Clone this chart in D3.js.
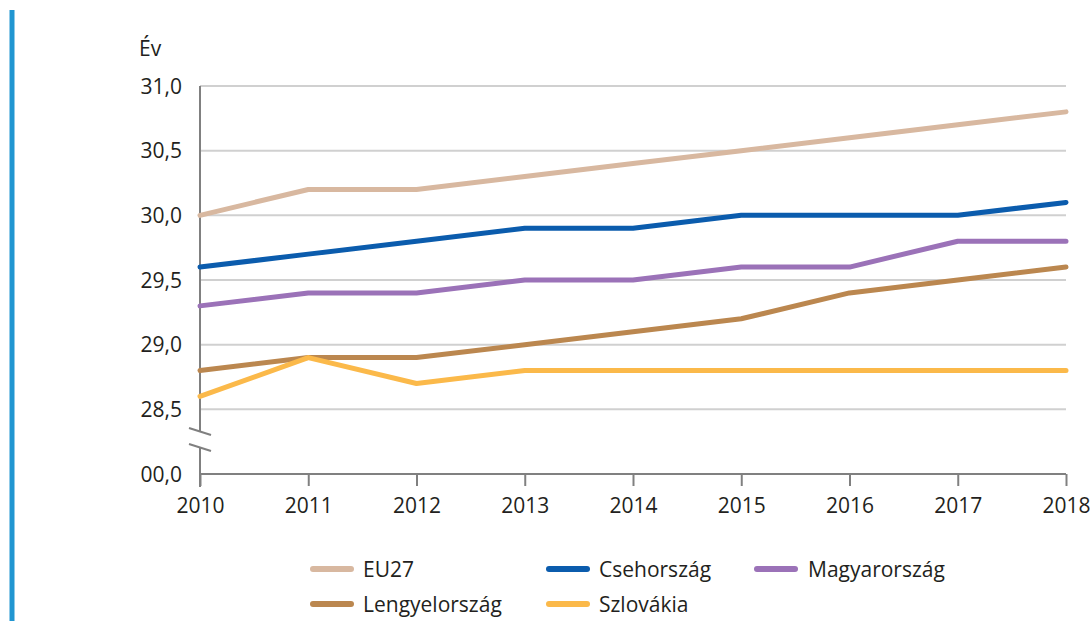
<!DOCTYPE html>
<html>
<head>
<meta charset="utf-8">
<script src="https://cdn.jsdelivr.net/npm/d3@7"></script>
<style>
  html, body { margin: 0; padding: 0; background: #fff; }
  svg { display: block; }
  text { font-family: "Open Sans", sans-serif; fill: #231f20; }
</style>
</head>
<body>
<svg id="chart" width="1090" height="621"></svg>
<script>
const years = [2010, 2011, 2012, 2013, 2014, 2015, 2016, 2017, 2018];
const eu27 = [30.0, 30.2, 30.2, 30.3, 30.4, 30.5, 30.6, 30.7, 30.8];
const csehorszag = [29.6, 29.7, 29.8, 29.9, 29.9, 30.0, 30.0, 30.0, 30.1];
const magyarorszag = [29.3, 29.4, 29.4, 29.5, 29.5, 29.6, 29.6, 29.8, 29.8];
const lengyelorszag = [28.8, 28.9, 28.9, 29.0, 29.1, 29.2, 29.4, 29.5, 29.6];
const szlovakia = [28.6, 28.9, 28.7, 28.8, 28.8, 28.8, 28.8, 28.8, 28.8];
const seriesNames = ["EU27", "Csehország", "Magyarország", "Lengyelország", "Szlovákia"];
const seriesColors = ["#d8b8a0", "#0b5cad", "#9b72b8", "#bb874f", "#fbb94a"];
const yTickValues = [28.0, 28.5, 29.0, 29.5, 30.0, 30.5, 31.0];
const yTickLabels = ["00,0", "28,5", "29,0", "29,5", "30,0", "30,5", "31,0"];
const yUnit = "Év";

const seriesValues = [eu27, csehorszag, magyarorszag, lengyelorszag, szlovakia];
const series = seriesNames.map((n, i) => ({ name: n, color: seriesColors[i], values: seriesValues[i] }));

const svg = d3.select("#chart");
const FS = 21;

// left blue bar
svg.append("rect").attr("x", 9.5).attr("y", 10).attr("width", 5).attr("height", 611).attr("fill", "#2196d1");

const x = d3.scaleLinear().domain([2010, 2018]).range([200, 1066]);
const y = d3.scaleLinear().domain([28, 31]).range([474, 86]);

// gridlines
svg.append("g").selectAll("line").data(yTickValues.filter(v => v > 28))
  .join("line")
  .attr("x1", x(2010)).attr("x2", x(2018))
  .attr("y1", d => y(d)).attr("y2", d => y(d))
  .attr("stroke", "#d0d0d0").attr("stroke-width", 2);

// y axis labels
svg.append("g").selectAll("text").data(yTickValues)
  .join("text")
  .attr("x", 182).attr("y", d => y(d))
  .attr("dy", "0.36em")
  .attr("text-anchor", "end")
  .attr("font-size", FS)
  .text((d, i) => yTickLabels[i]);

svg.append("text").attr("x", 139).attr("y", 56).attr("font-size", FS).text(yUnit);

// y axis line with break
const axisColor = "#808080";
svg.append("line").attr("x1", 200).attr("x2", 200).attr("y1", y(31)).attr("y2", 432)
  .attr("stroke", axisColor).attr("stroke-width", 2);
svg.append("line").attr("x1", 200).attr("x2", 200).attr("y1", 447).attr("y2", 487)
  .attr("stroke", axisColor).attr("stroke-width", 2);
[[428, 435], [444, 451]].forEach(([a, b]) => {
  svg.append("line").attr("x1", 189).attr("x2", 211).attr("y1", a).attr("y2", b)
    .attr("stroke", axisColor).attr("stroke-width", 2);
});

// x axis
const xAxis = d3.axisBottom(x).tickValues(years).tickFormat(d3.format("d")).tickSize(12).tickPadding(12);
const gx = svg.append("g").attr("transform", `translate(0,${y(28)})`).call(xAxis);
gx.select(".domain").attr("stroke", axisColor).attr("stroke-width", 2).attr("d", `M${x(2010)},0H${x(2018)}`);
gx.selectAll(".tick line").attr("stroke", axisColor).attr("stroke-width", 2);
gx.selectAll(".tick text").attr("font-size", FS).attr("font-family", "Open Sans, sans-serif").attr("fill", "#231f20");

// lines
const line = d3.line().x((d, i) => x(years[i])).y(d => y(d));
svg.append("g").selectAll("path").data(series)
  .join("path")
  .attr("d", d => line(d.values))
  .attr("fill", "none")
  .attr("stroke", d => d.color)
  .attr("stroke-width", 5)
  .attr("stroke-linejoin", "round")
  .attr("stroke-linecap", "round");

// legend
const legendPos = [
  { sx: 313, tx: 363, y: 569 },
  { sx: 549, tx: 599, y: 569 },
  { sx: 757, tx: 808, y: 569 },
  { sx: 313, tx: 363, y: 604 },
  { sx: 549, tx: 599, y: 604 }
];
const lg = svg.append("g");
series.forEach((s, i) => {
  const p = legendPos[i];
  lg.append("line").attr("x1", p.sx).attr("x2", p.sx + 38).attr("y1", p.y).attr("y2", p.y)
    .attr("stroke", s.color).attr("stroke-width", 6).attr("stroke-linecap", "round");
  lg.append("text").attr("x", p.tx).attr("y", p.y).attr("dy", "0.36em").attr("font-size", FS).text(s.name);
});
</script>
</body>
</html>
